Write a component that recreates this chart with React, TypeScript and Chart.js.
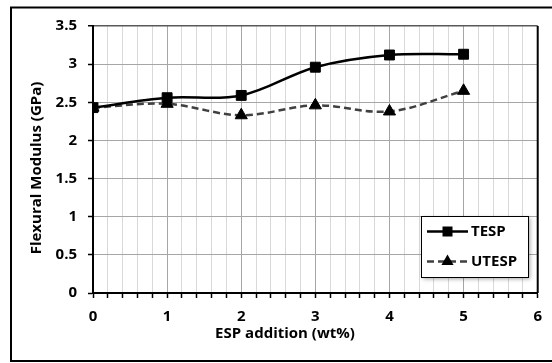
import React, { useEffect, useRef } from "react";
import { Chart, registerables } from "chart.js";

Chart.register(...registerables);

const xValues = [0, 1, 2, 3, 4, 5];
const tespValues = [2.43, 2.56, 2.59, 2.96, 3.12, 3.13];
const utespValues = [2.43, 2.48, 2.33, 2.46, 2.38, 2.65];
const seriesNames = ["TESP", "UTESP"];
const xAxisTitle = "ESP addition (wt%)";
const yAxisTitle = "Flexural Modulus (GPa)";

const FONT = "'Open Sans', 'DejaVu Sans', sans-serif";

const framePlugin = {
  id: "frame",
  beforeDraw(chart: any) {
    const { ctx } = chart;
    ctx.save();
    ctx.fillStyle = "#fff";
    ctx.fillRect(0, 0, chart.width, chart.height);
    ctx.strokeStyle = "#000";
    ctx.lineWidth = 2;
    ctx.strokeRect(11, 7.5, chart.width + 20, 353.5);
    ctx.restore();
  },
};

const titlesPlugin = {
  id: "titles",
  afterDraw(chart: any) {
    const { ctx, chartArea } = chart;
    ctx.save();
    ctx.strokeStyle = "#000";
    ctx.lineWidth = 2;
    ctx.beginPath();
    ctx.moveTo(chartArea.right, chartArea.top);
    ctx.lineTo(chartArea.right, chartArea.bottom);
    ctx.stroke();
    ctx.fillStyle = "#000";
    ctx.font = `bold 15px ${FONT}`;
    ctx.textAlign = "center";
    ctx.textBaseline = "middle";
    ctx.fillText(xAxisTitle, 285, 334);
    ctx.translate(36.5, 168);
    ctx.rotate(-Math.PI / 2);
    ctx.fillText(yAxisTitle, 0, 0);
    ctx.restore();
  },
};

const legendPlugin = {
  id: "customLegend",
  afterDraw(chart: any) {
    const { ctx } = chart;
    const x0 = 421, y0 = 216, w = 107, h = 61;
    ctx.save();
    ctx.shadowColor = "rgba(0,0,0,0.35)";
    ctx.shadowBlur = 4;
    ctx.shadowOffsetX = 2;
    ctx.shadowOffsetY = 2;
    ctx.fillStyle = "#fff";
    ctx.fillRect(x0, y0, w, h);
    ctx.shadowColor = "transparent";
    ctx.strokeStyle = "#000";
    ctx.lineWidth = 1;
    ctx.strokeRect(x0 + 0.5, y0 + 0.5, w, h);
    const rows = [231.5, 261.5];
    chart.data.datasets.forEach((ds: any, i: number) => {
      const y = rows[i];
      ctx.strokeStyle = ds.borderColor;
      ctx.lineWidth = ds.borderWidth;
      ctx.setLineDash(ds.borderDash || []);
      ctx.beginPath();
      ctx.moveTo(427, y);
      ctx.lineTo(468, y);
      ctx.stroke();
      ctx.setLineDash([]);
      ctx.fillStyle = "#000";
      ctx.beginPath();
      if (ds.pointStyle === "rect") {
        ctx.rect(447.5 - 5, y - 5, 10, 10);
      } else {
        const r = 7;
        ctx.moveTo(447.5, y - r);
        ctx.lineTo(447.5 + r * 0.866, y + r * 0.5);
        ctx.lineTo(447.5 - r * 0.866, y + r * 0.5);
        ctx.closePath();
      }
      ctx.fill();
      ctx.font = `bold 15px ${FONT}`;
      ctx.textAlign = "left";
      ctx.textBaseline = "middle";
      ctx.fillText(ds.label, 471, y);
    });
    ctx.restore();
  },
};

const isInt = (v: number) => Math.abs(v - Math.round(v)) < 1e-6;

export default function App() {
  const ref = useRef<HTMLCanvasElement | null>(null);
  useEffect(() => {
    if (!ref.current) return;
    const chart = new Chart(ref.current, {
      type: "line",
      data: {
        datasets: [
          {
            label: seriesNames[0],
            data: xValues.map((x, i) => ({ x, y: tespValues[i] })),
            borderColor: "#000",
            borderWidth: 2.5,
            tension: 0.35,
            pointStyle: "rect",
            pointRadius: 7,
            pointBackgroundColor: "#000",
            pointBorderColor: "#000",
            pointBorderWidth: 1,
          },
          {
            label: seriesNames[1],
            data: xValues.map((x, i) => ({ x, y: utespValues[i] })),
            borderColor: "#404040",
            borderWidth: 2.5,
            borderDash: [7, 4],
            tension: 0.35,
            pointStyle: "triangle",
            pointRadius: 7,
            pointBackgroundColor: "#000",
            pointBorderColor: "#000",
            pointBorderWidth: 1,
          },
        ],
      },
      options: {
        responsive: false,
        animation: false,
        events: [],
        layout: { padding: { left: 11, right: 11, top: 26, bottom: 0 } },
        plugins: { legend: { display: false }, tooltip: { enabled: false } },
        scales: {
          x: {
            type: "linear",
            min: 0,
            max: 6,
            afterFit: (s: any) => { s.height = 70; },
            ticks: {
              stepSize: 0.2,
              autoSkip: false,
              maxRotation: 0,
              padding: 10,
              color: "#000",
              font: { family: FONT, size: 15, weight: "bold" },
              callback: (v: any) => (isInt(Number(v)) ? String(Math.round(Number(v))) : ""),
            },
            grid: {
              color: (c: any) => {
                const v = c.tick ? c.tick.value : 0;
                return isInt(v) ? "#a6a6a6" : "#d9d9d9";
              },
              tickColor: "#000",
              tickLength: 5,
              tickWidth: 1.5,
            },
            border: { display: true, color: "#000", width: 2 },
          },
          y: {
            type: "linear",
            min: 0,
            max: 3.5,
            afterFit: (s: any) => { s.width = 82; },
            ticks: {
              stepSize: 0.5,
              padding: 11,
              color: "#000",
              font: { family: FONT, size: 15, weight: "bold" },
              callback: (v: any) => String(Number(Number(v).toFixed(1))),
            },
            grid: {
              color: (c: any) => {
                const v = c.tick ? c.tick.value : 0;
                return Math.abs(v - 3.5) < 1e-6 ? "#595959" : "#a6a6a6";
              },
              lineWidth: (c: any) => {
                const v = c.tick ? c.tick.value : 0;
                return Math.abs(v - 3.5) < 1e-6 ? 1.5 : 1;
              },
              tickColor: "#000",
              tickLength: 5,
              tickWidth: 1.5,
            },
            border: { display: true, color: "#000", width: 2 },
          },
        },
      },
      plugins: [framePlugin, titlesPlugin, legendPlugin],
    } as any);
    return () => chart.destroy();
  }, []);
  return (
    <div style={{ position: "absolute", left: 0, top: 0, width: 552, height: 363 }}>
      <canvas ref={ref} width={552} height={363} style={{ display: "block" }} />
    </div>
  );
}
